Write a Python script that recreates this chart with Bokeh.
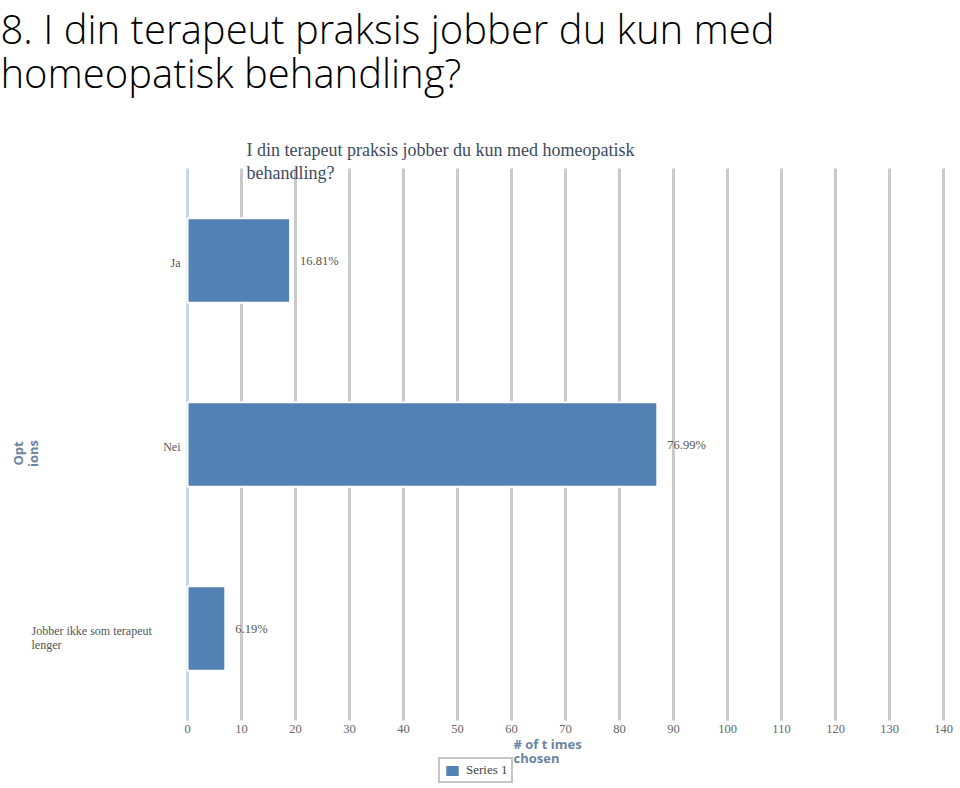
import math
from bokeh.plotting import figure
from bokeh.models import Range1d, Label, ColumnDataSource, Legend, LegendItem
from bokeh.embed import file_html
from bokeh.resources import INLINE

# ---- data ----
slide_title = "8. I din terapeut praksis jobber du kun med\nhomeopatisk behandling?"
chart_title = "I din terapeut praksis jobber du kun med homeopatisk\nbehandling?"
categories = ["Ja", "Nei", "Jobber ikke som terapeut lenger"]
category_labels = ["Ja", "Nei", "Jobber ikke som terapeut\nlenger"]
counts = [19, 87, 7]
percents = ["16.81%", "76.99%", "6.19%"]
x_ticks = [0, 10, 20, 30, 40, 50, 60, 70, 80, 90, 100, 110, 120, 130, 140]
x_tick_labels = [str(t) for t in x_ticks]
x_title = "# of t imes\nchosen"
y_title = "Opt\nions"
series_name = "Series 1"

# ---- layout (pixels of the 960x788 canvas) ----
W, H = 960, 788
X0_PX = 187          # pixel of value 0
PX_PER_UNIT = 5.4    # pixels per count
TOP_PX = 168         # top of the category area
BAND_PX = 184        # height of one category band
n = len(categories)

BAR = "#5282b4"
SERIF = "Liberation Serif"
TITLE_FONT = "Open Sans Light, Open Sans"

x_range = Range1d(-X0_PX / PX_PER_UNIT, (W - X0_PX) / PX_PER_UNIT)
y_top = n - 0.5
y_range = Range1d(y_top - H / BAND_PX + TOP_PX / BAND_PX, y_top + TOP_PX / BAND_PX)

p = figure(width=W, height=H, output_backend="svg", toolbar_location=None,
           x_range=x_range, y_range=y_range, x_axis_location=None, y_axis_location=None,
           min_border=0)
p.outline_line_color = None
p.grid.visible = False
p.background_fill_color = "white"

ypos = [n - 1 - i for i in range(n)]
band_lo, band_hi = -0.5, n - 0.5

# vertical grid lines (value axis)
grid_x = [t for t in x_ticks if t != 0]
p.segment(x0=grid_x, x1=grid_x, y0=[band_lo] * len(grid_x), y1=[band_hi] * len(grid_x),
          line_color="#cacaca", line_width=3)
# value axis baseline
p.segment(x0=[0], x1=[0], y0=[band_lo], y1=[band_hi], line_color="#c9d7e6", line_width=3)
# small category boundary ticks
bounds = [i + 0.5 for i in range(n - 1)]
p.segment(x0=[0] * len(bounds), x1=[0] * len(bounds), y0=bounds, y1=bounds,
          line_color="#bbbbbb", line_width=1)

src = ColumnDataSource(dict(y=ypos, count=counts, pct=percents, lab=category_labels))

bars = p.hbar(y="y", right="count", left=0, height=0.46, source=src,
              fill_color=BAR, line_color="white", line_width=2)

# percent labels
p.text(x="count", y="y", text="pct", source=src, x_offset=10, y_offset=0,
       text_baseline="middle", text_align="left", text_font={"value": SERIF},
       text_font_size="12.5px", text_color="#555555")

# category labels
p.text(x=[0, 0], y=ypos[:2], text=category_labels[:2], x_offset=-7, y_offset=2,
       text_baseline="middle", text_align="right", text_font={"value": SERIF},
       text_font_size="12px", text_color="#555555")
p.text(x=[0], y=ypos[2:], text=category_labels[2:], x_offset=31 - X0_PX, y_offset=9,
       text_baseline="middle", text_align="left", text_font={"value": SERIF},
       text_font_size="12px", text_color="#555555", text_line_height=1.0)

# tick labels of the value axis
p.text(x=x_ticks, y=[band_lo] * len(x_ticks), text=x_tick_labels, y_offset=4,
       text_baseline="top", text_align="center", text_font={"value": SERIF},
       text_font_size="12.5px", text_color="#666666")

# slide title
p.add_layout(Label(x=0, y=H, x_units="screen", y_units="screen", text=slide_title,
                   text_font=TITLE_FONT, text_font_size="40px", text_color="#000000",
                   text_baseline="top", text_align="left", text_line_height=0.8))

# chart title
p.add_layout(Label(x=246, y=H - 139, x_units="screen", y_units="screen", text=chart_title,
                   text_font=SERIF, text_font_size="18px", text_color="#3e4b5c",
                   text_baseline="top", text_align="left", text_line_height=1.15))

# axis titles
p.add_layout(Label(x=513, y=H - 734, x_units="screen", y_units="screen", text=x_title,
                   text_font="Open Sans", text_font_style="bold", text_font_size="13px",
                   text_color="#6b84a0", text_baseline="top", text_align="left",
                   text_line_height=0.82))
p.add_layout(Label(x=25, y=H - 453, x_units="screen", y_units="screen", text=y_title,
                   text_font="Open Sans", text_font_style="bold", text_font_size="13px",
                   text_color="#6b84a0", text_baseline="middle", text_align="center",
                   angle=math.pi / 2, text_line_height=0.85))

# legend
legend = Legend(items=[LegendItem(label=series_name, renderers=[bars])],
                location=(438, H - 783), orientation="horizontal",
                glyph_width=18, glyph_height=15, label_height=15, label_standoff=5,
                padding=3, margin=0, spacing=0,
                label_text_font=SERIF, label_text_font_size="13px", label_text_color="#444444",
                border_line_color="#8c8c8c", border_line_width=2.5,
                background_fill_color="white", background_fill_alpha=1)
p.add_layout(legend, "center")

open("out.html", "w").write(file_html(p, INLINE))
